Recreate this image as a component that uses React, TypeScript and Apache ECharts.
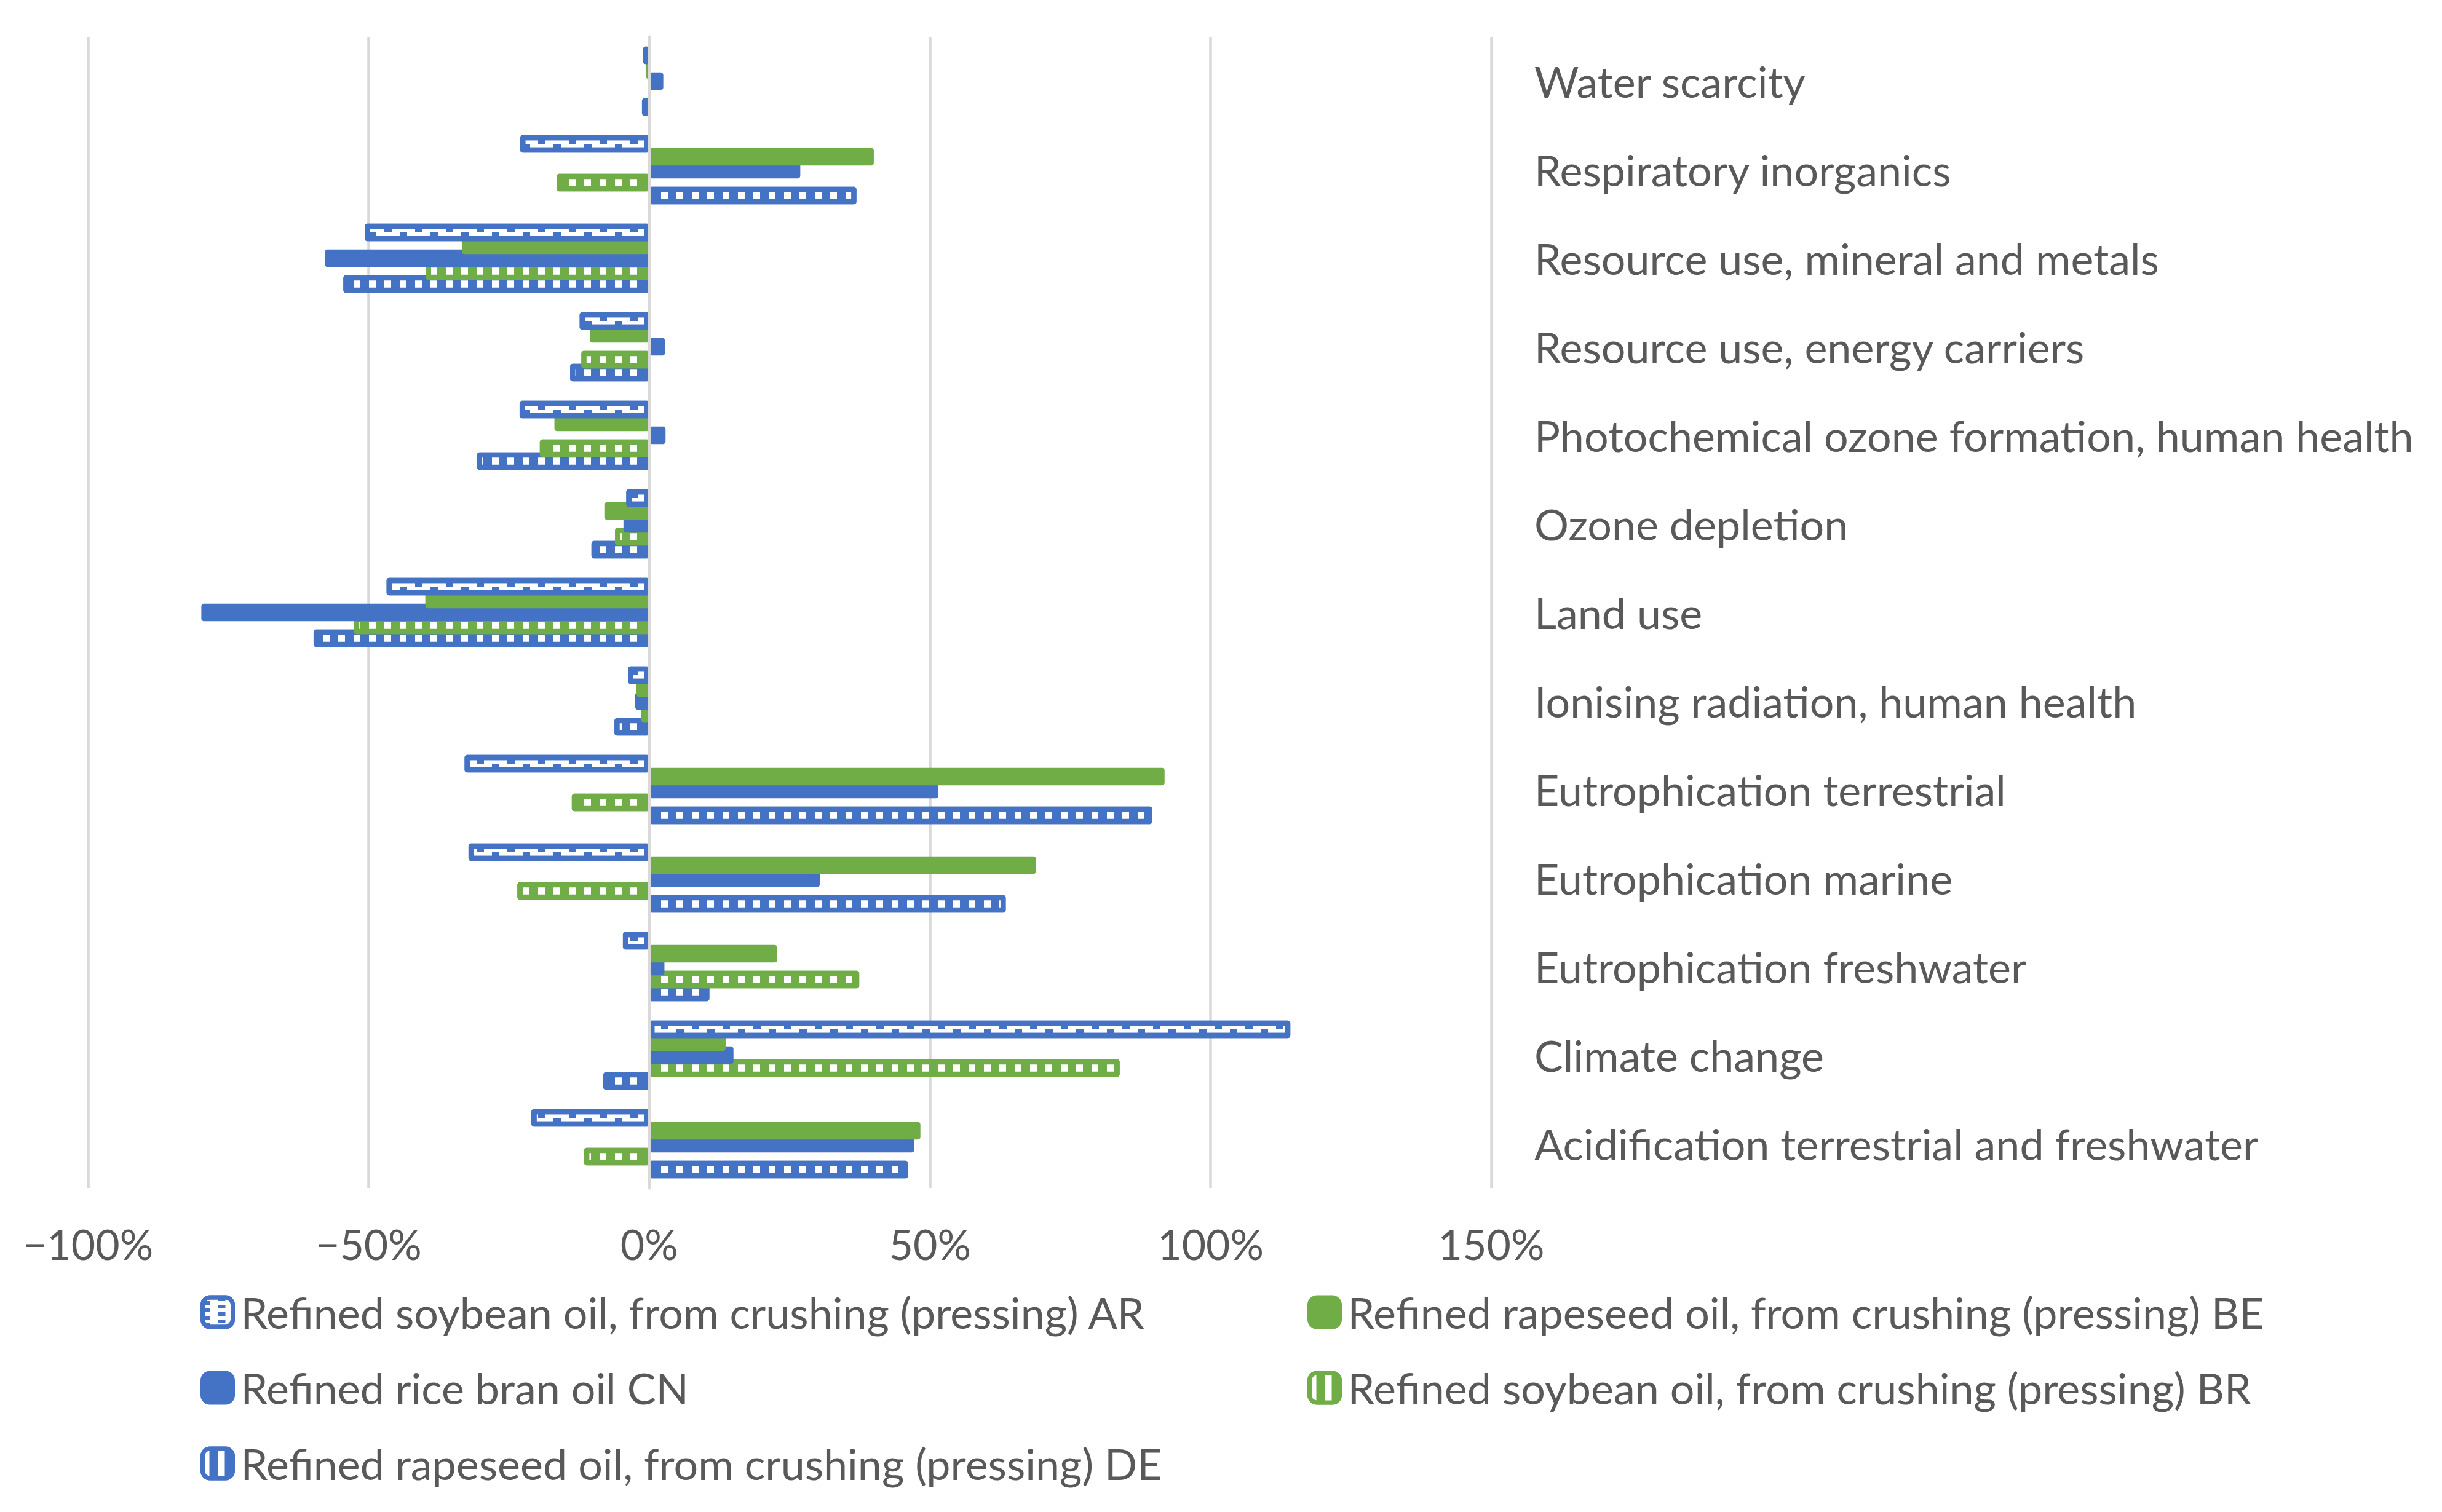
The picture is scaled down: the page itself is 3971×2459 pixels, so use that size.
import React, { useEffect, useRef } from 'react';
import * as echarts from 'echarts';

// Categories from bottom (index 0) to top
const categories = [
  'Acidification terrestrial and freshwater',
  'Climate change',
  'Eutrophication freshwater',
  'Eutrophication marine',
  'Eutrophication terrestrial',
  'Ionising radiation, human health',
  'Land use',
  'Ozone depletion',
  'Photochemical ozone formation, human health',
  'Resource use, energy carriers',
  'Resource use, mineral and metals',
  'Respiratory inorganics',
  'Water scarcity',
];

const seriesNames = [
  'Refined soybean oil, from crushing (pressing) AR',
  'Refined rapeseed oil, from crushing (pressing) BE',
  'Refined rice bran oil CN',
  'Refined soybean oil, from crushing (pressing) BR',
  'Refined rapeseed oil, from crushing (pressing) DE',
];

// values in %
const arValues = [-21.0, 114.2, -4.7, -32.2, -32.9, -3.8, -46.8, -4.1, -23.1, -12.4, -50.7, -23.0, -1.1];
const beValues = [48.3, 13.6, 22.8, 68.9, 91.8, -2.3, -39.9, -8.0, -16.9, -10.6, -33.4, 40.0, -0.3];
const cnValues = [47.2, 15.0, 2.7, 30.4, 51.5, -2.5, -79.8, -4.6, 2.9, 2.8, -57.8, 26.9, 2.5];
const brValues: (number | null)[] = [-11.6, 83.8, 37.4, -23.5, -13.8, -1.4, -52.6, -6.1, -19.5, -12.1, -39.8, -16.5, null];
const deValues = [46.1, -8.2, 10.7, 63.5, 89.6, -6.2, -59.8, -10.3, -30.7, -14.1, -54.5, 36.9, -1.3];

const xTicks = { min: -100, max: 150, interval: 50 };

const BLUE = '#4472C4';
const GREEN = '#70AD47';
const TEXT = '#595959';
const GRID = '#D9D9D9';
const FONT = 'Lato';
const FS = 70;
const FS_TICK = 68;

const stripeDecal = {
  symbol: 'rect',
  symbolSize: 1,
  symbolKeepAspect: false,
  color: '#FFFFFF',
  dashArrayX: [11, 14],
  dashArrayY: [24, 0],
};

const crenelDecal = {
  symbol: 'rect',
  symbolSize: 1,
  symbolKeepAspect: false,
  color: BLUE,
  dashArrayX: [
    [12, 38],
    [0, 25, 12, 13],
  ],
  dashArrayY: [6, 0],
};

function barSeries(name: string, data: (number | null)[], fill: string, border: string, z: number, decal?: any) {
  const itemStyle: any = {
    color: fill,
    borderColor: border,
    borderWidth: 8.5,
    borderJoin: 'round',
  };
  if (decal) itemStyle.decal = decal;
  return {
    name,
    type: 'bar',
    data,
    barWidth: 28.5,
    barGap: '-26.3%',
    z,
    itemStyle,
    emphasis: { disabled: true },
  };
}

export default function App() {
  const ref = useRef<HTMLDivElement>(null);
  useEffect(() => {
    document.body.style.margin = '0';
    const chart = echarts.init(ref.current as HTMLDivElement, null, {
      renderer: 'svg',
      width: 3971,
      height: 2459,
    });
    const legendCommon = {
      orient: 'vertical',
      top: 2099,
      padding: 0,
      itemWidth: 49,
      itemHeight: 48,
      itemGap: 53,
      selectedMode: false,
      itemStyle: { borderWidth: 7 },
      textStyle: {
        fontSize: FS,
        fontFamily: FONT,
        color: TEXT,
        padding: [0, 0, 0, 8],
      },
    };
    chart.setOption({
      animation: false,
      backgroundColor: '#FFFFFF',
      grid: { left: 143, top: 60, width: 2282, height: 1872, containLabel: false },
      xAxis: {
        type: 'value',
        min: xTicks.min,
        max: xTicks.max,
        interval: xTicks.interval,
        axisLine: { show: false },
        axisTick: { show: false },
        splitLine: { show: true, lineStyle: { color: GRID, width: 4.5 } },
        axisLabel: {
          margin: 56,
          color: TEXT,
          fontSize: FS_TICK,
          fontFamily: FONT,
          formatter: (v: number) => (v < 0 ? '\u2212' + Math.abs(v) + '%' : v + '%'),
        },
      },
      yAxis: [
        {
          type: 'category',
          data: categories,
          position: 'right',
          axisLine: { show: false, onZero: false },
          axisTick: { show: false },
          splitLine: { show: false },
          axisLabel: {
            interval: 0,
            margin: 70,
            color: TEXT,
            fontSize: FS,
            fontFamily: FONT,
            align: 'left',
          },
        },
        {
          type: 'category',
          data: categories,
          position: 'left',
          z: 10,
          axisLine: { show: true, onZero: true, lineStyle: { color: GRID, width: 5 } },
          axisTick: { show: false },
          axisLabel: { show: false },
          splitLine: { show: false },
        },
      ],
      legend: [
        { ...legendCommon, left: 326, data: [seriesNames[0], seriesNames[2], seriesNames[4]] },
        { ...legendCommon, left: 2126, data: [seriesNames[1], seriesNames[3]] },
      ],
      series: [
        barSeries(seriesNames[0], arValues, '#FFFFFF', BLUE, 7, crenelDecal),
        barSeries(seriesNames[1], beValues, GREEN, GREEN, 6),
        barSeries(seriesNames[2], cnValues, BLUE, BLUE, 5),
        barSeries(seriesNames[3], brValues, GREEN, GREEN, 4, stripeDecal),
        barSeries(seriesNames[4], deValues, BLUE, BLUE, 3, stripeDecal),
      ],
    });
    return () => chart.dispose();
  }, []);
  return <div ref={ref} style={{ width: 3971, height: 2459 }} />;
}
